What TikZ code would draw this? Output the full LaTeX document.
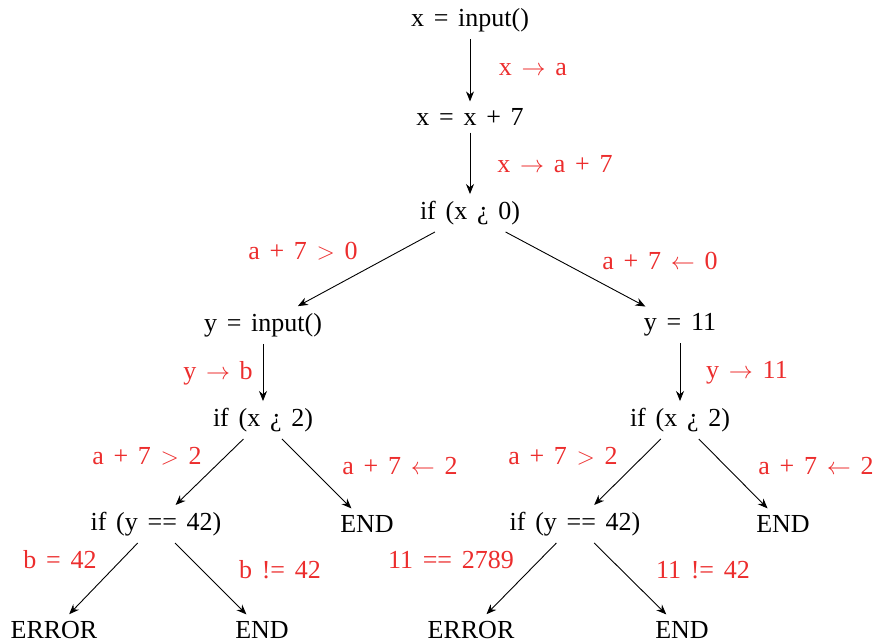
\documentclass[tikz,border=0pt]{standalone}
\usepackage{fontspec}
\setmainfont[WordSpace=1.5]{Liberation Serif}
\usetikzlibrary{arrows.meta}
\definecolor{lblred}{RGB}{236,45,45}
\begin{document}
\begin{tikzpicture}[x=0.5pt,y=-0.5pt,
  stmt/.style={font=\fontsize{13}{15}\selectfont, text=black},
  lbl/.style={font=\fontsize{13}{15}\selectfont, text=lblred},
  arr/.style={-{Stealth[length=5pt,width=4pt]}, line width=0.45pt, black}]
\useasboundingbox (0,0) rectangle (885,643);
% statements
\node[stmt] (n1) at (470,20) {x = input()};
\node[stmt] (n2) at (470,117) {x = x + 7};
\node[stmt] (n3) at (470,213) {if (x ¿ 0)};
\node[stmt] (L)  at (263,325) {y = input()};
\node[stmt] (R)  at (680,325) {y = 11};
\node[stmt] (L2) at (263,420) {if (x ¿ 2)};
\node[stmt] (R2) at (680,420) {if (x ¿ 2)};
\node[stmt] (LL) at (156,524) {if (y == 42)};
\node[stmt] (LE) at (367,524) {END};
\node[stmt] (RL) at (575,524) {if (y == 42)};
\node[stmt] (RE) at (783,524) {END};
\node[stmt] (E1) at (54,630) {ERROR};
\node[stmt] (D1) at (262,630) {END};
\node[stmt] (E2) at (471,630) {ERROR};
\node[stmt] (D2) at (682,630) {END};
% connectors
\draw[arr] (n1) -- (n2);
\draw[arr] (n2) -- (n3);
\draw[arr] (n3) -- (L);
\draw[arr] (n3) -- (R);
\draw[arr] (L) -- (L2);
\draw[arr] (R) -- (R2);
\draw[arr] (L2) -- (LL);
\draw[arr] (L2) -- (LE);
\draw[arr] (R2) -- (RL);
\draw[arr] (R2) -- (RE);
\draw[arr] (LL) -- (E1);
\draw[arr] (LL) -- (D1);
\draw[arr] (RL) -- (E2);
\draw[arr] (RL) -- (D2);
% labels
\node[lbl] (l1) at (533,70) {x $\rightarrow$ a};
\node[lbl] (l2) at (555,164) {x $\rightarrow$ a + 7};
\node[lbl] (l3) at (303,251) {a + 7 $>$ 0};
\node[lbl] (l4) at (660,261) {a + 7 $\leftarrow$ 0};
\node[lbl] (l5) at (218,373) {y $\rightarrow$ b};
\node[lbl] (l6) at (747,373) {y $\rightarrow$ 11};
\node[lbl] (l7) at (147,456) {a + 7 $>$ 2};
\node[lbl] (l8) at (400,466) {a + 7 $\leftarrow$ 2};
\node[lbl] (l9) at (563,456) {a + 7 $>$ 2};
\node[lbl] (l10) at (816,466) {a + 7 $\leftarrow$ 2};
\node[lbl] (l11) at (60,560) {b = 42};
\node[lbl] (l12) at (280,570) {b != 42};
\node[lbl] (l13) at (451,560) {11 == 2789};
\node[lbl] (l14) at (703,570) {11 != 42};
\end{tikzpicture}
\end{document}
